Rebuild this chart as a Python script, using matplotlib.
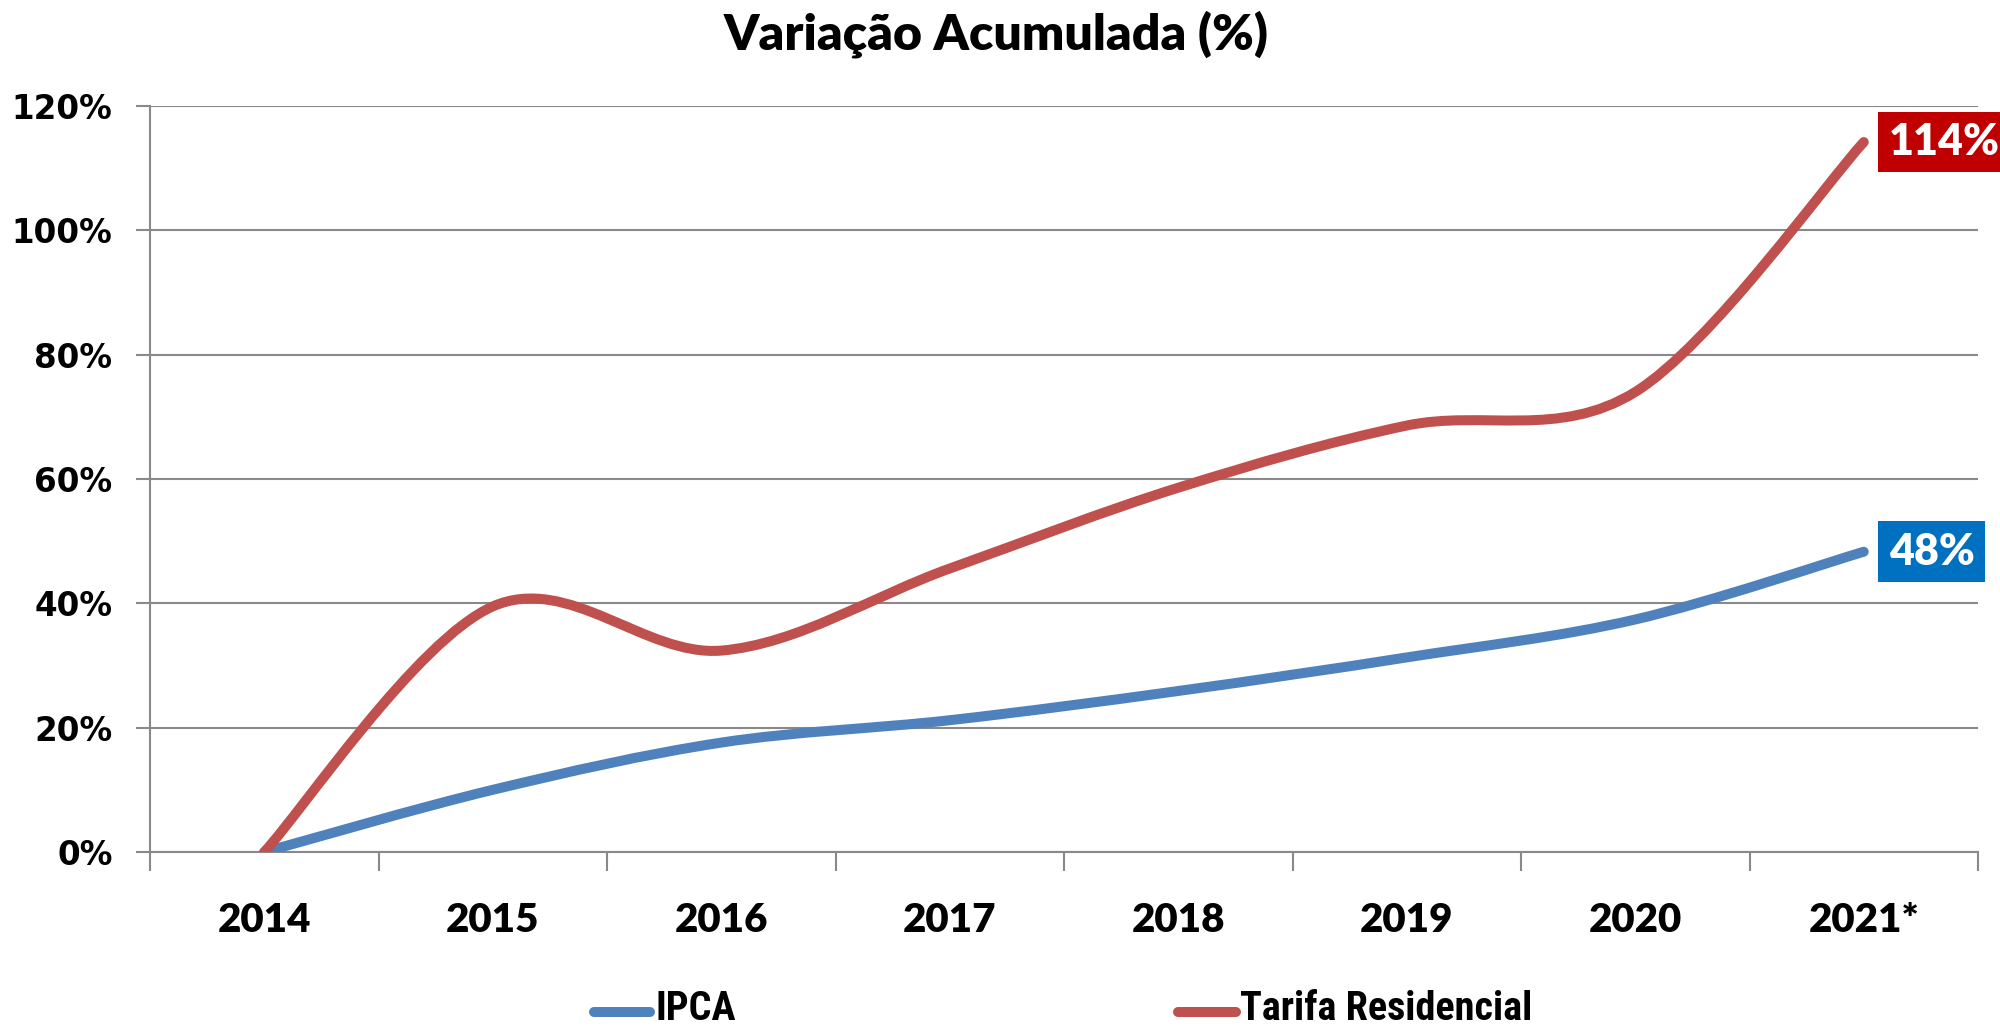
import matplotlib
matplotlib.use("Agg")
import matplotlib.pyplot as plt
from matplotlib.path import Path
from matplotlib.patches import PathPatch
from matplotlib.lines import Line2D
from matplotlib import font_manager
import numpy as np

categories = ["2014", "2015", "2016", "2017", "2018", "2019", "2020", "2021*"]
ipca = [0.0, 10.0, 17.6, 21.2, 25.9, 31.3, 37.4, 48.3]
tarifa = [0.0, 39.5, 32.4, 45.6, 58.6, 68.6, 74.0, 114.2]
yticks = [0, 20, 40, 60, 80, 100, 120]
ytick_labels = ["0%", "20%", "40%", "60%", "80%", "100%", "120%"]
title = "Variação Acumulada (%)"
series_names = ["IPCA", "Tarifa Residencial"]
end_labels = ["48%", "114%"]

c_blue = "#4F81BD"
c_red = "#C0504D"
box_blue = "#0070C0"
box_red = "#C00000"
grid_c = "#898989"

available = {f.name for f in font_manager.fontManager.ttflist}
narrow = None
for cand in ["Liberation Sans Narrow", "DejaVu Sans Condensed", "Roboto Condensed",
             "Open Sans Condensed"]:
    if cand in available:
        narrow = cand
        break

W, H = 2000, 1031
fig = plt.figure(figsize=(W / 100, H / 100), dpi=100)
ax = fig.add_axes([150 / W, 1 - 852 / H, (1978 - 150) / W, (852 - 106) / H])
ax.set_xlim(-0.5, len(categories) - 0.5)
ax.set_ylim(0, 120)


def smooth_path(xs, ys):
    pts = np.column_stack([xs, ys]).astype(float)
    n = len(pts)
    verts = [tuple(pts[0])]
    codes = [Path.MOVETO]
    for i in range(n - 1):
        p0 = pts[i - 1] if i > 0 else pts[i]
        p1 = pts[i]
        p2 = pts[i + 1]
        p3 = pts[i + 2] if i + 2 < n else pts[i + 1]
        c1 = p1 + (p2 - p0) / 6.0
        c2 = p2 - (p3 - p1) / 6.0
        verts += [tuple(c1), tuple(c2), tuple(p2)]
        codes += [Path.CURVE4, Path.CURVE4, Path.CURVE4]
    return Path(verts, codes)


x = np.arange(len(categories))
for vals, col in [(ipca, c_blue), (tarifa, c_red)]:
    patch = PathPatch(smooth_path(x, vals), fill=False, edgecolor=col, lw=7.2,
                      capstyle="round", joinstyle="round", zorder=3)
    ax.add_patch(patch)

# axes styling
for s in ["top", "right"]:
    ax.spines[s].set_visible(False)
ax.spines["left"].set_color(grid_c)
ax.spines["left"].set_linewidth(1.5)
ax.spines["bottom"].set_color(grid_c)
ax.spines["bottom"].set_linewidth(1.5)
ax.set_yticks(yticks)
ax.set_yticklabels(ytick_labels, fontfamily="DejaVu Sans", fontweight="bold", fontsize=23.5)
ax.yaxis.grid(True, color=grid_c, lw=1.5)
ax.set_axisbelow(True)
ax.tick_params(axis="y", length=10, width=1.5, color=grid_c, pad=17)

ax.set_xticks(x)
ax.set_xticklabels(categories, fontfamily="Lato", fontweight="heavy", fontsize=29)
ax.set_xticks(np.arange(len(categories) + 1) - 0.5, minor=True)
ax.tick_params(axis="x", which="major", length=0, pad=36)
ax.tick_params(axis="x", which="minor", length=14, width=1.5, color=grid_c)

# end labels
for vals, lab, bc in [(ipca, end_labels[0], box_blue), (tarifa, end_labels[1], box_red)]:
    ax.annotate(lab, xy=(x[-1], vals[-1]), xytext=(25, 0), textcoords="offset pixels",
                ha="left", va="center", color="white", fontfamily="Lato",
                fontweight="heavy", fontsize=31, annotation_clip=False,
                bbox=dict(boxstyle="square,pad=0.24", fc=bc, ec="none"), zorder=5)

# title
fig.text(996 / W, 1 - 34 / H, title, ha="center", va="center", fontfamily="Lato",
         fontweight="heavy", fontsize=36)

# legend (manual)
leg_y = 1 - 1012 / H
if narrow:
    leg_font, leg_size = [narrow, "DejaVu Sans"], 29
else:
    leg_font, leg_size = ["Liberation Sans", "DejaVu Sans"], 26
for (x0, x1, tx), col, name in [((594, 650, 656), c_blue, series_names[0]),
                                ((1178, 1236, 1240), c_red, series_names[1])]:
    fig.add_artist(Line2D([x0 / W, x1 / W], [leg_y, leg_y], color=col, lw=7.2,
                          solid_capstyle="round", transform=fig.transFigure))
    fig.text(tx / W, 1 - 1020 / H, name, ha="left", va="baseline",
             fontfamily=leg_font, fontweight="bold", fontsize=leg_size)

fig.savefig("out.png", dpi=100)
